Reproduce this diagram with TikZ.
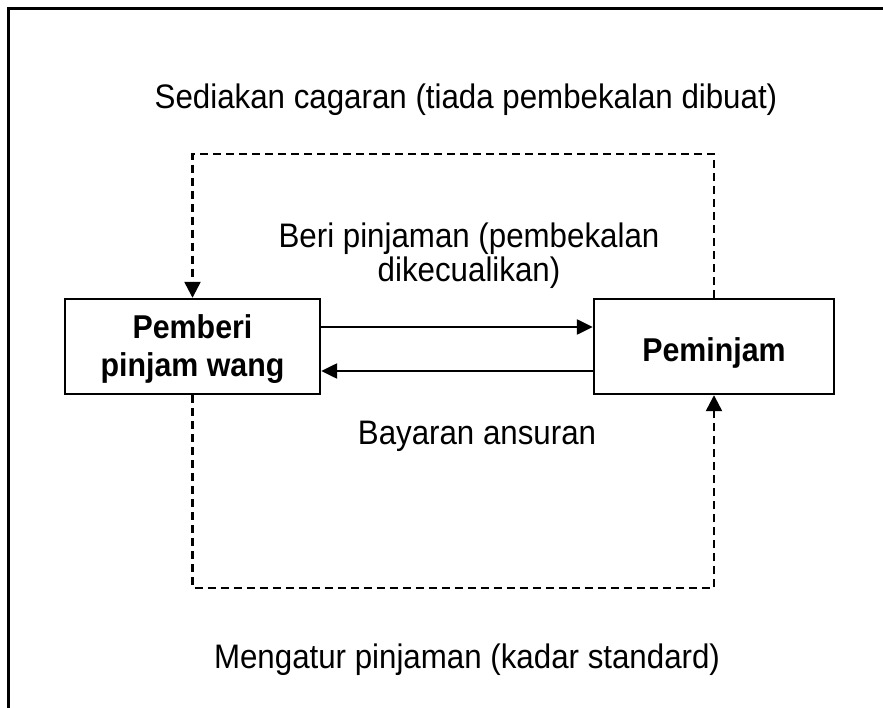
\documentclass[tikz,border=0pt]{standalone}
\usepackage{fontspec}
\setmainfont{Liberation Sans}[FakeStretch=0.92]
\usetikzlibrary{arrows.meta}
\begin{document}
\begin{tikzpicture}[x=1pt,y=-1pt,
  box/.style={draw, line width=2.4pt, inner sep=0pt},
  lbl/.style={font=\fontsize{34}{32}\selectfont, align=center, inner sep=0pt, anchor=base},
  btxt/.style={font=\fontsize{33}{38}\selectfont\bfseries, align=center, inner sep=0pt, anchor=base},
  solidarr/.style={line width=2.4pt, -{Triangle[length=16pt,width=15pt]}},
  dasharr/.style={line width=2.4pt, dash pattern=on 8pt off 5pt, -{Triangle[length=16pt,width=16pt]}},
]
\useasboundingbox (0,0) rectangle (883,708);
\coordinate (fb) at (8.5,708);
\coordinate (fc) at (8.5,9);
\coordinate (fr) at (883,9);
\draw[line width=3pt] (fb) -- (fc) -- (fr);

\node[box, minimum width=255pt, minimum height=95pt] (L) at (192.5,346.5) {};
\node[box, minimum width=240pt, minimum height=95pt] (R) at (714,346.5) {};

\node[btxt] (t1) at (192.5,338) {Pemberi};
\node[btxt] (t2) at (192.5,376) {pinjam wang};
\node[btxt] (t3) at (714,362) {Peminjam};

\node[lbl] (s1) at (466,109) {Sediakan cagaran (tiada pembekalan dibuat)};
\node[lbl] (s2) at (469,248) {Beri pinjaman (pembekalan};
\node[lbl] (s3) at (469,282) {dikecualikan)};
\node[lbl] (s4) at (477,444) {Bayaran ansuran};
\node[lbl] (s5) at (467,668) {Mengatur pinjaman (kadar standard)};

\coordinate (tc) at (450,154);
\coordinate (bc) at (450,588);

\draw[solidarr] ([yshift=19.5pt]L.east) -- ([yshift=19.5pt]R.west);
\draw[solidarr] ([yshift=-24.5pt]R.west) -- ([yshift=-24.5pt]L.east);
\draw[dasharr] (R.north) |- (tc) -| (L.north);
\draw[dasharr] (L.south) |- (bc) -| (R.south);
\end{tikzpicture}
\end{document}
